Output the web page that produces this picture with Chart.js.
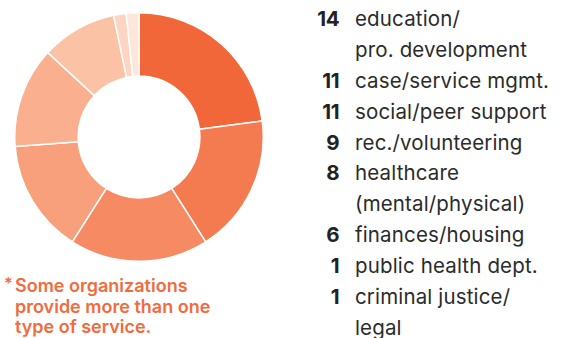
<!DOCTYPE html>
<html>
<head>
<meta charset="utf-8">
<script src="https://cdn.jsdelivr.net/npm/chart.js@4"></script>
<style>
  html, body { margin: 0; padding: 0; background: #fff; }
  body { width: 570px; height: 338px; position: relative; overflow: hidden; font-family: "Inter", "Roboto", sans-serif; }
  #chartWrap { position: absolute; left: 14px; top: 12px; width: 250px; height: 250px; }
  #legend { position: absolute; left: 300px; top: 4px; }
  .row { position: relative; height: 30.9px; line-height: 30.9px; font-size: 20.5px; color: #2b2b2b; white-space: nowrap; }
  .num { position: absolute; left: 0; width: 39px; text-align: right; font-weight: 700; color: #222; letter-spacing: -0.5px; }
  .lab { position: absolute; left: 55px; letter-spacing: 0.15px; }
  #note { position: absolute; left: 4px; top: 276px; color: #F26B3D; font-weight: 600; font-size: 18px; line-height: 20.5px; }
  #note .star { position: absolute; left: 0; top: -3px; font-size: 16px; }
  #note .txt { margin-left: 11px; }
</style>
</head>
<body>
<div id="chartWrap"><canvas id="c"></canvas></div>
<div id="legend"></div>
<div id="note"><span class="star">*</span><div class="txt">Some organizations<br>provide more than one<br>type of service.</div></div>
<script>
const categories = [
  ["education/", "pro. development"],
  ["case/service mgmt."],
  ["social/peer support"],
  ["rec./volunteering"],
  ["healthcare", "(mental/physical)"],
  ["finances/housing"],
  ["public health dept."],
  ["criminal justice/", "legal"]
];
const counts = [14, 11, 11, 9, 8, 6, 1, 1];
const colors = ["#F26739", "#F47B4F", "#F68B63", "#F89F7B", "#FAB08F", "#FCC2A6", "#FDD5C2", "#FEE6DA"];

// legend (HTML text)
const legend = document.getElementById('legend');
categories.forEach((lines, i) => {
  lines.forEach((line, j) => {
    const row = document.createElement('div');
    row.className = 'row';
    if (j === 0) {
      const n = document.createElement('span');
      n.className = 'num';
      n.textContent = counts[i];
      row.appendChild(n);
    }
    const l = document.createElement('span');
    l.className = 'lab';
    l.textContent = line;
    row.appendChild(l);
    legend.appendChild(row);
  });
});

new Chart(document.getElementById('c'), {
  type: 'doughnut',
  data: {
    labels: categories.map(c => c.join(' ')),
    datasets: [{
      data: counts,
      backgroundColor: colors,
      borderColor: '#ffffff',
      borderWidth: 1.5
    }]
  },
  options: {
    responsive: true,
    maintainAspectRatio: false,
    animation: false,
    cutout: '49%',
    layout: { padding: 0 },
    plugins: { legend: { display: false }, tooltip: { enabled: false } }
  }
});
</script>
</body>
</html>
